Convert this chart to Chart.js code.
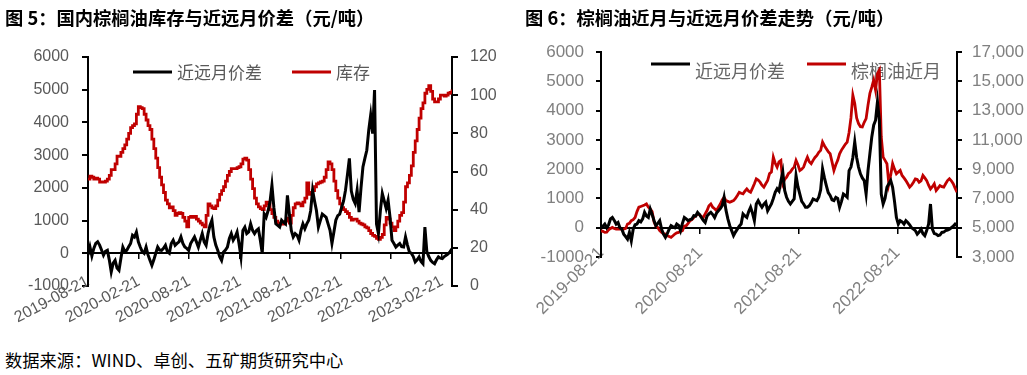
<!DOCTYPE html>
<html>
<head>
<meta charset="utf-8">
<script src="https://cdn.jsdelivr.net/npm/chart.js@4.4.0/dist/chart.umd.min.js"></script>
<style>
  body { margin: 0; background: #fff; width: 1027px; height: 375px; position: relative; overflow: hidden; }
  .title { position: absolute; top: 4px; font: bold 18.3px "Noto Sans CJK SC", sans-serif; color: #000; white-space: nowrap; z-index: 2; }
  .src { position: absolute; left: 5px; top: 347px; font: 17.3px "Noto Sans CJK SC", sans-serif; color: #000; white-space: nowrap; }
  canvas { position: absolute; top: 0; }
</style>
</head>
<body>
<div class="title" style="left:5px">图 5：国内棕榈油库存与近远月价差（元/吨）</div>
<div class="title" style="left:525px">图 6：棕榈油近月与近远月价差走势（元/吨）</div>
<canvas id="c1" width="515" height="340" style="left:0"></canvas>
<canvas id="c2" width="507" height="340" style="left:520px"></canvas>
<div class="src">数据来源：WIND、卓创、五矿期货研究中心</div>
<script>
// weekly series, first point 2019-08-21
const startDate = '2019-08-21';
const xTickLabels1 = ['2019-08-21', '2020-02-21', '2020-08-21', '2021-02-21', '2021-08-21', '2022-02-21', '2022-08-21', '2023-02-21'];
const xTickLabels2 = ['2019-08-21', '2020-08-21', '2021-08-21', '2022-08-21'];

// 图5 近远月价差 (元/吨)
const spread1 = [
  -50, 200, -80, 150, 300, 350, 250, 100, -60, 60,
  90, -200, -570, -300, -215, -450, -520, -150, 190, 60,
  90, 200, 300, 550, 500, 650, 350, 190, 50, 0,
  190, -50, -215, -370, -200, 0, 190, 100, 90, 150,
  245, 50, 0, 300, 400, 245, 300, 350, 500, 300,
  190, 150, 90, 300, 400, 500, 350, 190, 400, 600,
  350, 245, 600, 850, 1010, 500, 250, 90, -100, -215,
  40, 100, 190, 450, 600, 400, 500, 650, 300, -110,
  700, 800, 600, 650, 900, 700, 600, 700, 750, 400,
  0, 1200, 1100, 1300, 1570, 2080, 1400, 900, 850, 800,
  1010, 950, 900, 1770, 1200, 700, 500, 600, 550, 400,
  700, 900, 750, 900, 1010, 1300, 1930, 1600, 1300, 800,
  1000, 1200, 1150, 1100, 900, 700, 300, 650, 1010, 1150,
  1200, 1400, 1600, 1930, 2400, 2900, 1900, 1650, 1520, 1930,
  1260, 2000, 2640, 2900, 3150, 3760, 4220, 3660, 4990, 900,
  600, 1300, 1830, 1600, 1370, 1620, 1100, 400, 300, 190,
  250, 300, 200, 190, 500, 250, 40, 0, -100, -265,
  -200, -110, -250, -320, 800, 50, -100, -215, -280, -320,
  -200, -110, -150, -160, -100, -60, -20, 50, 140
];

// 图5 库存 (万吨)
const inventory = [
  56, 57.5, 57, 56, 56.5, 56, 54.5, 54.5, 54.5, 55,
  56, 58, 61, 61, 64, 68, 68, 70, 72, 74,
  77, 80, 83, 84, 85, 90, 94, 93.5, 93, 90,
  87, 84, 82, 77, 72, 67, 62, 57, 53, 49,
  45, 43, 41, 41.5, 39.5, 37, 38, 38.5, 38, 36,
  34, 31, 36, 36.5, 36, 36.5, 35, 34, 33, 32,
  31, 37, 43, 42, 41, 40.5, 42, 45, 48, 50,
  52, 55, 58, 60, 61.5, 61.5, 61.5, 62, 62.5, 64,
  66.5, 67, 66, 61, 56, 51, 46, 43, 41.5, 40.5,
  40, 42, 44, 43, 40, 38, 36, 34, 33, 32.5,
  32.5, 33, 34, 35.5, 33, 37, 41, 43, 43.5, 43,
  42, 44, 46, 54, 48, 49, 50, 52, 53.5, 54,
  54.5, 55, 57, 61, 65, 64, 61, 55, 50, 46,
  43, 41, 40, 39, 38, 36, 34.5, 35, 35, 34,
  33, 32.5, 32, 31, 30.5, 29, 27.5, 26.5, 26, 25,
  24.5, 25.5, 27, 32, 36, 35, 33, 31, 29, 31,
  34, 37, 38.5, 44, 52, 54, 58, 63, 70, 76,
  82, 88, 93, 96, 101, 103, 105, 102, 98, 96.5,
  96.5, 98, 100, 100, 99.5, 100, 101, 101.5, 103
];

// 图6 近远月价差 (元/吨)
const spread2 = [
  0, 50, 125, 0, 100, 300, 350, 250, 125, 180,
  0, -50, -220, -300, -390, -160, -450, -50, 100, 125,
  240, 200, 300, 525, 400, 350, 640, 450, 250, 70,
  150, 240, -50, -220, -330, -200, -50, 70, 30, 0,
  125, 80, -100, 150, 350, 300, 240, 280, 300, 410,
  400, 525, 450, 350, 250, 180, 400, 470, 525, 450,
  350, 500, 580, 650, 750, 1040, 600, 300, 70, -100,
  -270, -150, -50, 50, 125, 470, 400, 350, 550, 700,
  500, 240, 810, 925, 800, 700, 800, 870, 580, 700,
  810, 1000, 1210, 1330, 1250, 1600, 1900, 1270, 1040, 900,
  810, 900, 980, 1780, 1400, 1150, 900, 810, 700, 700,
  750, 850, 980, 950, 925, 1040, 1300, 2010, 1700, 1440,
  1200, 1100, 950, 925, 1040, 1000, 700, 900, 1150, 1100,
  1040, 1950, 2070, 2400, 2930, 2400, 2070, 1840, 1700, 1610,
  1150, 1950, 2530, 3100, 3500, 3670, 4300, 3670, 1150, 810,
  1000, 1380, 1500, 1610, 1380, 900, 350, 125, 240, 200,
  125, 240, 180, 100, 0, -50, -100, -220, -150, -50,
  -200, -270, -100, 125, 810, -50, -200, -220, -270, -250,
  -160, -150, -100, -80, -50, 0, 50, 125, 70
];

// 图6 棕榈油近月 (元/吨)
const palmNear = [
  4800, 4750, 4680, 4700, 4850, 4950, 5020, 4950, 4900, 4900,
  4900, 4900, 4900, 4950, 5250, 5300, 5480, 5550, 5700, 6100,
  6400, 6450, 6500, 6550, 6620, 6400, 6280, 6100, 5400, 5100,
  5020, 4800, 4680, 4600, 4570, 4450, 4400, 4340, 4450, 4570,
  4650, 4680, 4750, 4800, 5100, 5140, 5300, 5480, 5550, 5700,
  5800, 5940, 5900, 5750, 5700, 5950, 6170, 6500, 6620, 6400,
  6300, 6170, 6400, 6620, 6900, 7080, 6850, 6800, 6740, 6800,
  6850, 7000, 7200, 7420, 7350, 7310, 7500, 7650, 7500, 7420,
  7700, 8000, 8340, 8250, 8110, 7900, 7770, 8000, 8220, 8700,
  8800, 9820, 9400, 9140, 9500, 9600, 8000, 8300, 8450, 8700,
  8800, 9000, 9140, 9600, 9300, 8910, 9000, 9140, 9500, 9820,
  9500, 9370, 9600, 9800, 9940, 10150, 10280, 10850, 10600, 10400,
  10200, 10050, 9500, 8910, 9300, 9600, 10050, 10300, 10500, 10700,
  10850, 11500, 12500, 14050, 13480, 12500, 12110, 11900, 11880, 12200,
  12450, 13370, 14170, 14600, 15080, 14400, 15540, 15770, 11200, 9820,
  9600, 9370, 8000, 8600, 9370, 9000, 8680, 8800, 8910, 8570,
  8400, 8220, 8000, 7770, 7900, 8110, 8340, 8300, 8110, 8200,
  8570, 8400, 8220, 7900, 7650, 7800, 8000, 7540, 7700, 7880,
  7800, 7770, 8000, 8220, 8340, 8200, 8000, 7700, 7420
];

const DAY = 86400000;
const dayOf = s => (Date.parse(s) - Date.parse(startDate)) / DAY;
const weekDays = spread1.map((_, i) => i * 7);
const lastDay = weekDays[weekDays.length - 1];
const tickDays1 = xTickLabels1.map(dayOf);
const tickDays2 = xTickLabels2.map(dayOf);

Chart.defaults.font.family = '"Liberation Sans", "Noto Sans CJK SC", sans-serif';
Chart.defaults.animation = false;

// legend with a line sample, drawn under the data like the original
const lineLegend = {
  id: 'lineLegend',
  beforeDatasetsDraw(chart, args, opts) {
    const ctx = chart.ctx;
    ctx.save();
    ctx.font = opts.fontSpec;
    ctx.textBaseline = 'middle';
    chart.data.datasets.forEach((ds, i) => {
      const x = opts.xs[i];
      ctx.strokeStyle = ds.borderColor;
      ctx.lineWidth = 3;
      ctx.beginPath();
      ctx.moveTo(x, opts.lineY);
      ctx.lineTo(x + opts.sample, opts.lineY);
      ctx.stroke();
      ctx.fillStyle = opts.color;
      ctx.fillText(ds.label, x + opts.sample + opts.gap, opts.textY);
    });
    ctx.restore();
  }
};

function makeChart(id, o) {
  const sideGrid = { drawOnChartArea: false, drawTicks: true, tickLength: o.tickLen, color: '#000', lineWidth: 2 };
  return new Chart(document.getElementById(id), {
    type: 'line',
    data: {
      labels: weekDays,
      datasets: [
        { label: o.labels[0], data: o.left, borderColor: '#000000', borderWidth: 3, pointRadius: 0, yAxisID: 'y' },
        { label: o.labels[1], data: o.right, borderColor: '#C00000', borderWidth: 2.8, pointRadius: 0, yAxisID: 'y1', stepped: o.stepRight }
      ]
    },
    options: {
      responsive: false,
      layout: { padding: { top: o.top, left: 0, right: 0, bottom: 0 } },
      plugins: {
        legend: { display: false },
        tooltip: { enabled: false },
        lineLegend: o.legend
      },
      scales: {
        x: {
          type: 'linear', position: 'bottom', min: 0, max: lastDay,
          grid: { display: false, drawTicks: false },
          border: { display: false },
          afterBuildTicks: s => {
            s.ticks = o.tickDays.map(v => ({ value: v }));
            // labels start a little above the plot bottom, so don't clip them to the axis box
            s._computeLabelArea = () => undefined;
          },
          afterFit: s => { s.height = o.xHeight; },
          ticks: {
            autoSkip: false, minRotation: o.rot, maxRotation: o.rot, padding: o.xPad,
            color: o.tickColor, font: { size: o.xFont },
            callback: (v, i) => o.tickLabels[i]
          }
        },
        x0: {
          type: 'linear', position: { y: 0 }, min: 0, max: lastDay,
          afterBuildTicks: s => { s.ticks = o.tickDays.map(v => ({ value: v })); },
          ticks: { display: false },
          grid: { drawOnChartArea: false, drawTicks: true, tickLength: 5, color: '#000', lineWidth: 1.5 },
          border: { color: '#000', width: 2 }
        },
        y: {
          position: 'left', min: o.yMin, max: o.yMax,
          ticks: { stepSize: o.yStep, color: o.tickColor, font: { size: o.yFont }, padding: o.yPad, callback: v => String(v) },
          grid: sideGrid,
          border: { color: '#000', width: 2 },
          afterFit: s => { s.width = o.yWidth; }
        },
        y1: {
          position: 'right', min: o.y1Min, max: o.y1Max,
          ticks: { stepSize: o.y1Step, color: o.tickColor, font: { size: o.yFont }, padding: o.y1Pad, callback: o.y1Fmt },
          grid: sideGrid,
          border: { color: '#000', width: 2 },
          afterFit: s => { s.width = o.y1Width; }
        }
      }
    },
    plugins: [lineLegend]
  });
}

makeChart('c1', {
  labels: ['近远月价差', '库存'], left: spread1, right: inventory, stepRight: true,
  top: 57, xHeight: 54, rot: 28, xPad: -14, xFont: 16, yFont: 16,
  tickColor: '#595959', tickLen: 6, tickDays: tickDays1, tickLabels: xTickLabels1,
  yMin: -1000, yMax: 6000, yStep: 1000, yPad: 13, yWidth: 88,
  y1Min: 0, y1Max: 120, y1Step: 20, y1Pad: 12, y1Width: 63, y1Fmt: v => String(v),
  legend: { xs: [133, 292], lineY: 72, textY: 73, sample: 39, gap: 5, color: '#595959',
            fontSpec: '17px "Noto Sans CJK SC", sans-serif' }
});

makeChart('c2', {
  labels: ['近远月价差', '棕榈油近月'], left: spread2, right: palmNear, stepRight: false,
  top: 52, xHeight: 83, rot: 45, xPad: -14, xFont: 17, yFont: 17,
  tickColor: '#808080', tickLen: 5, tickDays: tickDays2, tickLabels: xTickLabels2,
  yMin: -1000, yMax: 6000, yStep: 1000, yPad: 12, yWidth: 81,
  y1Min: 3000, y1Max: 17000, y1Step: 2000, y1Pad: 10, y1Width: 70, y1Fmt: v => v.toLocaleString('en-US'),
  legend: { xs: [131, 287], lineY: 64, textY: 71, sample: 39, gap: 5, color: '#666666',
            fontSpec: '18px "Noto Sans CJK SC", sans-serif' }
});
</script>
</body>
</html>
